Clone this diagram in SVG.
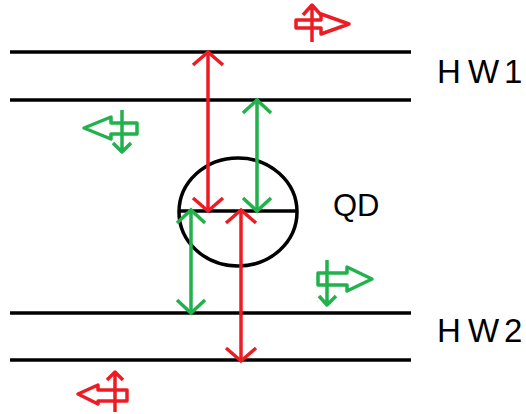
<svg xmlns="http://www.w3.org/2000/svg" width="526" height="414" viewBox="0 0 526 414">
<defs>
<style>
.wire{stroke:#000;stroke-width:3.5;fill:none}
.lbl{font-family:"Liberation Sans",Arial,sans-serif;font-size:33px;fill:#000}
.red{stroke:#ED1C24;stroke-width:3.5;fill:none;stroke-linejoin:round}
.grn{stroke:#22B14C;stroke-width:3.5;fill:none;stroke-linejoin:round}
</style>
<marker id="mr" markerUnits="userSpaceOnUse" markerWidth="40" markerHeight="40" viewBox="-20 -20 40 40" refX="0" refY="0" orient="auto-start-reverse" overflow="visible">
<path d="M-13,-15 L0,0 L-13,15" fill="none" stroke="#ED1C24" stroke-width="3.5" stroke-linejoin="miter"/>
</marker>
<marker id="mg" markerUnits="userSpaceOnUse" markerWidth="40" markerHeight="40" viewBox="-20 -20 40 40" refX="0" refY="0" orient="auto-start-reverse" overflow="visible">
<path d="M-13,-14 L0,0 L-13,14" fill="none" stroke="#22B14C" stroke-width="3.5" stroke-linejoin="miter"/>
</marker>
</defs>
<rect width="526" height="414" fill="#fff"/>
<g id="hw1">
<line class="wire" x1="10" y1="52" x2="411" y2="52"/>
<line class="wire" x1="10" y1="100" x2="411" y2="100"/>
<text class="lbl" x="437 455 468 496 504" y="83">H W 1</text>
</g>
<g id="qd">
<ellipse class="wire" cx="238" cy="212" rx="59" ry="54"/>
<line class="wire" x1="179" y1="211" x2="297" y2="211"/>
<text class="lbl" x="333" y="216" style="font-size:31px">QD</text>
</g>
<g id="hw2">
<line class="wire" x1="10" y1="313" x2="411" y2="313"/>
<line class="wire" x1="10" y1="360" x2="411" y2="360"/>
<text class="lbl" x="437 455 468 496 504" y="342">H W 2</text>
</g>
<g id="connectors">
<line class="red" x1="208" y1="52" x2="208" y2="211" marker-start="url(#mr)" marker-end="url(#mr)"/>
<line class="grn" x1="257" y1="100" x2="257" y2="211" marker-start="url(#mg)" marker-end="url(#mg)"/>
<line class="grn" x1="191" y1="210" x2="191" y2="313" marker-start="url(#mg)" marker-end="url(#mg)"/>
<line class="red" x1="241" y1="210" x2="241" y2="361" marker-start="url(#mr)" marker-end="url(#mr)"/>
</g>
<g id="pol-top-red">
<polygon class="red" points="296,20 321,20 321,14 349,24 321,34 321,28 296,28"/>
<path class="red" d="M312,42 L312,5 M303,15 L312,5 L321,15"/>
</g>
<g id="pol-left-green">
<polygon class="grn" points="137,123 111,123 111,117 84,128 111,139 111,134 137,134"/>
<path class="grn" d="M122,110 L122,152 M113,143 L122,152 L131,143"/>
</g>
<g id="pol-right-green">
<polygon class="grn" points="318,273 347,273 347,267 372,279 347,291 347,285 318,285"/>
<path class="grn" d="M327,260 L327,305 M319,296 L327,305 L336,296"/>
</g>
<g id="pol-bottom-red">
<polygon class="red" points="127,390 98,390 98,385 78,394 98,404 98,401 127,401"/>
<path class="red" d="M115,412 L115,372 M107,380 L115,372 L123,380"/>
</g>
</svg>
